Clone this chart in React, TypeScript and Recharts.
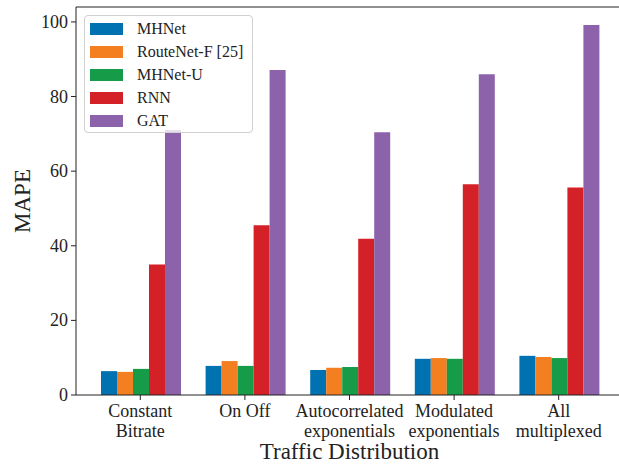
import { BarChart, Bar, XAxis, YAxis, Label, ReferenceLine } from 'recharts';

const categories = [
  ['Constant', 'Bitrate'],
  ['On Off', ''],
  ['Autocorrelated', 'exponentials'],
  ['Modulated', 'exponentials'],
  ['All', 'multiplexed'],
];

const mhnet = [6.4, 7.8, 6.7, 9.7, 10.5];
const routenetF = [6.2, 9.1, 7.3, 9.9, 10.2];
const mhnetU = [7.0, 7.8, 7.5, 9.7, 9.9];
const rnn = [35.0, 45.5, 41.9, 56.5, 55.6];
const gat = [71.0, 87.1, 70.4, 86.0, 99.2];

const yTicks = [0, 20, 40, 60, 80, 100];

const series = [
  { key: 'mhnet', name: 'MHNet', color: '#0072b2' },
  { key: 'routenetF', name: 'RouteNet-F [25]', color: '#f47f20' },
  { key: 'mhnetU', name: 'MHNet-U', color: '#169c48' },
  { key: 'rnn', name: 'RNN', color: '#d42027' },
  { key: 'gat', name: 'GAT', color: '#8c62aa' },
];

const data = categories.map((c, i) => ({
  label: c.join('|'),
  mhnet: mhnet[i],
  routenetF: routenetF[i],
  mhnetU: mhnetU[i],
  rnn: rnn[i],
  gat: gat[i],
}));

const FONT = '"Liberation Serif", serif';
const TEXT = '#222';

function CategoryTick(props: any) {
  const { x, y, payload } = props;
  const lines = String(payload.value).split('|');
  return (
    <text x={x} y={y} textAnchor="middle" fontFamily={FONT} fontSize={18} fill={TEXT}>
      {lines.map((l: string, i: number) => (
        <tspan key={i} x={x} dy={i === 0 ? 15 : 19.5}>{l}</tspan>
      ))}
    </text>
  );
}

function ValueTick(props: any) {
  const { x, y, payload } = props;
  return (
    <text x={x} y={y} textAnchor="end" dominantBaseline="central" fontFamily={FONT} fontSize={18} fill={TEXT}>
      {payload.value}
    </text>
  );
}

function LegendBox() {
  return (
    <div
      style={{
        position: 'absolute',
        left: 84,
        top: 15,
        width: 169,
        height: 118,
        border: '1px solid #d0d0d0',
        borderRadius: 4,
        background: 'rgba(255,255,255,0.8)',
        fontFamily: FONT,
        fontSize: 16,
        color: TEXT,
        boxSizing: 'border-box',
        paddingTop: 1,
      }}
    >
      {series.map((s) => (
        <div key={s.key} style={{ display: 'flex', alignItems: 'center', height: 23 }}>
          <div style={{ width: 33, height: 12, background: s.color, marginLeft: 5 }} />
          <span style={{ marginLeft: 14, lineHeight: '23px' }}>{s.name}</span>
        </div>
      ))}
    </div>
  );
}

export default function App() {
  return (
    <div style={{ position: 'absolute', left: 0, top: 0, width: 619, height: 464, overflow: 'hidden', background: '#fff' }}>
      <BarChart
        width={630}
        height={464}
        data={data}
        margin={{ top: 7, right: 7, bottom: 0, left: 0 }}
        barCategoryGap={13}
        barGap={0}
      >
        <XAxis
          dataKey="label"
          height={69}
          padding={{ left: 12, right: 12 }}
          stroke="#222"
          tickLine={{ stroke: '#222' }}
          tickSize={5}
          tick={<CategoryTick />}
          interval={0}
        >
          <Label
            value="Traffic Distribution"
            position="insideBottom"
            offset={5}
            style={{ fontFamily: FONT, fontSize: 23, fill: TEXT }}
          />
        </XAxis>
        <YAxis
          width={76}
          domain={[0, 104]}
          ticks={yTicks}
          allowDataOverflow
          stroke="#222"
          tickSize={5}
          tickMargin={3}
          tick={<ValueTick />}
        >
          <Label
            content={() => (
              <text
                x={22}
                y={201}
                transform="rotate(-90 22 201)"
                textAnchor="middle"
                dominantBaseline="central"
                fontFamily={FONT}
                fontSize={23}
                fill={TEXT}
              >
                MAPE
              </text>
            )}
          />
        </YAxis>
        {series.map((s) => (
          <Bar key={s.key} dataKey={s.key} name={s.name} fill={s.color} isAnimationActive={false} />
        ))}
        <ReferenceLine y={104} stroke="#222" strokeWidth={1} />
      </BarChart>
      <LegendBox />
    </div>
  );
}
